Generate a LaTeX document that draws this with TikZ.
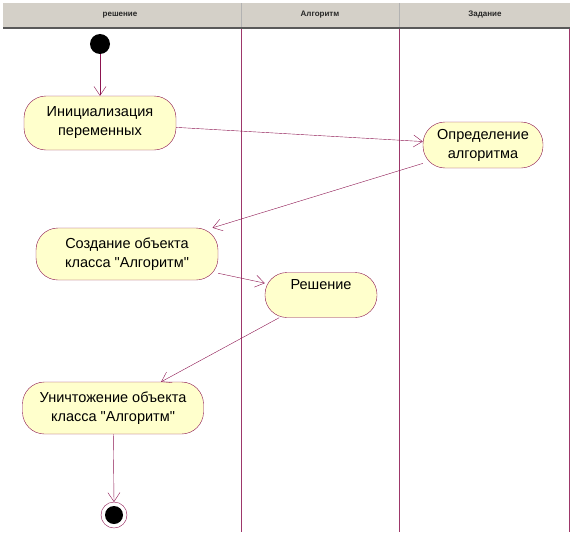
\documentclass[tikz,border=0pt]{standalone}
\usepackage{fontspec}
\setmainfont{Liberation Sans}[Ligatures=TeXOff]
\usetikzlibrary{arrows.meta}

\definecolor{rosered}{RGB}{140,20,80}
\definecolor{rosefill}{RGB}{255,255,204}
\definecolor{headgray}{RGB}{212,208,200}

\tikzset{
  activity/.style={draw=rosered, fill=rosefill, rounded corners=22pt, align=center,
    font=\fontsize{14.5}{19}\selectfont, inner sep=0pt},
  flow/.style={draw=rosered, -{Straight Barb[length=9pt,width=12pt]}},
  lane/.style={draw=rosered!85!white, line width=0.9pt},
  lanehead/.style={font=\fontsize{8}{8}\selectfont\bfseries, text=black!85}
}

\begin{document}
\begin{tikzpicture}[x=1pt, y=-1pt]

\useasboundingbox (0,0) rectangle (572,535);

% HEADER
\fill [headgray] (3,3) rectangle (570,27);
\draw [black!30, line width=1pt] (241,3) -- (241,27);
\draw [black!30, line width=1pt] (399,3) -- (399,27);
\draw [black!65, line width=2pt] (3,28) -- (570,28);
\node [lanehead] (hsol) at (120,15) {решение};
\node [lanehead] (halg) at (320,15) {Алгоритм};
\node [lanehead] (htask) at (485,15) {Задание};

% LANES
\draw [lane] (241,29) -- (241,532);
\draw [lane] (399,29) -- (399,532);
\draw [lane] (569,29) -- (569,532);

% START AND END
\fill [black] (100,44) circle [radius=10];
\coordinate (start) at (100,54);
\draw [rosered, fill=white] (114,515) circle [radius=13];
\fill [black] (114,515) circle [radius=9];
\coordinate (stop) at (114,502);

% ACTIVITIES
\node [activity, minimum width=152pt, minimum height=54pt] (init) at (100,123)
  {Инициализация\\переменных};
\node [activity, minimum width=120pt, minimum height=46pt] (define) at (483,145)
  {Определение\\алгоритма};
\node [activity, minimum width=182pt, minimum height=52pt] (create) at (127,254)
  {Создание объекта\\класса "Алгоритм"};
\node [activity, minimum width=112pt, minimum height=45pt] (solve) at (321,295)
  {Решение\\[2pt]};
\node [activity, minimum width=181pt, minimum height=52pt] (destroy) at (113,408)
  {Уничтожение объекта\\класса "Алгоритм"};

% TRANSITIONS
\draw [flow] (start) -- (init);
\draw [flow] (init) -- (define);
\draw [flow] (define) -- (create);
\draw [flow] (create) -- (solve);
\draw [flow] (solve) -- (destroy);
\draw [flow] (destroy) -- (stop);

\end{tikzpicture}
\end{document}
